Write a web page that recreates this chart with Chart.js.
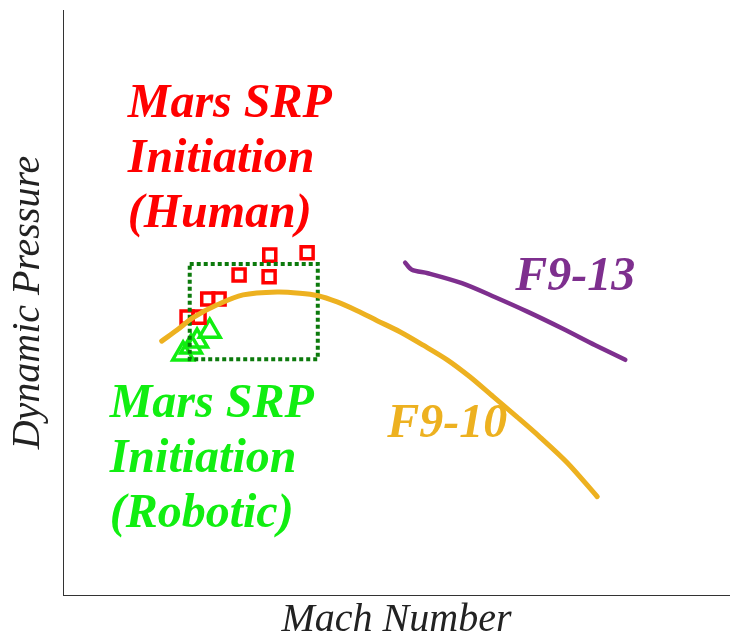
<!DOCTYPE html>
<html>
<head>
<meta charset="utf-8">
<script src="https://cdn.jsdelivr.net/npm/chart.js@4/dist/chart.umd.min.js"></script>
<style>
  html, body { margin: 0; padding: 0; background: #fff; }
  #wrap { width: 730px; height: 640px; }
</style>
</head>
<body>
<div id="wrap"><canvas id="chart"></canvas></div>
<script>
// values (arbitrary units, axes run 0..100)
var f910_mach = [14.8, 17.1, 19.5, 23.1, 27.0, 32.1, 35.5, 38.1, 41.1, 44.1, 47.1, 50.5, 54.0, 57.6, 61.0, 64.5, 68.1, 71.5, 75.6, 80.1];
var f910_q    = [43.4, 45.3, 47.4, 49.6, 51.3, 51.8, 51.6, 51.2, 50.1, 48.6, 46.9, 45.0, 42.7, 40.2, 37.3, 33.9, 30.4, 27.0, 22.6, 16.8];

var f913_mach = [51.3, 52.3, 54.7, 59.8, 64.8, 69.7, 74.8, 79.8, 84.3];
var f913_q    = [56.8, 55.6, 55.0, 53.3, 50.9, 48.4, 45.6, 42.7, 40.2];

var human_mach = [31.0, 36.6, 26.4, 30.9, 21.7, 23.4, 18.6, 20.4];
var human_q    = [58.1, 58.5, 54.7, 54.4, 50.6, 50.6, 47.5, 47.5];

var robotic_mach = [18.0, 19.2, 20.1, 22.0];
var robotic_q    = [41.2, 42.4, 43.4, 45.1];

// dotted box around the initiation points
var box_mach = [19.0, 38.2, 38.2, 19.0, 19.0];
var box_q    = [56.6, 56.6, 40.3, 40.3, 56.6];

var axis_min = 0, axis_max = 100;

function pts(xs, ys) {
    return xs.map(function(x, i) { return {x: x, y: ys[i]}; });
}

// text annotations: anchor (left, first baseline) in data units
var notes = [
    {lines: ['Mars SRP', 'Initiation', '(Human)'], x: 9.7, y: 81.7, color: '#ff0000'},
    {lines: ['Mars SRP', 'Initiation', '(Robotic)'], x: 7.0, y: 30.4, color: '#11ee11'},
    {lines: ['F9-13'], x: 67.8, y: 52.1, color: '#7E2F8E'},
    {lines: ['F9-10'], x: 48.6, y: 27.0, color: '#EDB120'}
];

var notesPlugin = {
    id: 'notes',
    afterDatasetsDraw: function(chart) {
        var ctx = chart.ctx;
        var xs = chart.scales.x, ys = chart.scales.y;
        ctx.save();
        ctx.font = 'italic bold 48px "Liberation Serif"';
        ctx.textBaseline = 'alphabetic';
        ctx.textAlign = 'left';
        notes.forEach(function(n) {
            ctx.fillStyle = n.color;
            var px = xs.getPixelForValue(n.x);
            var py = ys.getPixelForValue(n.y);
            n.lines.forEach(function(line, i) {
                ctx.fillText(line, px, py + i * 55);
            });
        });
        ctx.restore();
    }
};

var ctx = document.getElementById('chart').getContext('2d');
var chart = new Chart(ctx, {
    type: 'line',
    data: {
        datasets: [
            {
                label: 'F9-10',
                data: pts(f910_mach, f910_q),
                borderColor: '#EDB120',
                borderWidth: 5,
                pointRadius: 0,
                tension: 0.3,
                borderCapStyle: 'round',
                fill: false
            },
            {
                label: 'F9-13',
                data: pts(f913_mach, f913_q),
                borderColor: '#7E2F8E',
                borderWidth: 4.5,
                pointRadius: 0,
                tension: 0.3,
                borderCapStyle: 'round',
                fill: false
            },
            {
                label: 'box',
                data: pts(box_mach, box_q),
                borderColor: '#0c7a0c',
                borderWidth: 4,
                borderDash: [4, 3],
                pointRadius: 0,
                tension: 0,
                fill: false
            },
            {
                label: 'Human',
                data: pts(human_mach, human_q),
                showLine: false,
                pointStyle: 'rect',
                pointRadius: 8.5,
                pointBorderWidth: 3.5,
                pointBorderColor: '#ff0000',
                pointBackgroundColor: 'rgba(255,255,255,0)'
            },
            {
                label: 'Robotic',
                data: pts(robotic_mach, robotic_q),
                showLine: false,
                pointStyle: 'triangle',
                pointRadius: 12,
                pointBorderWidth: 3.5,
                pointBorderColor: '#11ee11',
                pointBackgroundColor: 'rgba(255,255,255,0)'
            }
        ]
    },
    options: {
        responsive: true,
        maintainAspectRatio: false,
        animation: false,
        layout: {autoPadding: false, padding: {left: 8, right: 0, top: 10, bottom: 0}},
        plugins: {
            legend: {display: false},
            tooltip: {enabled: false}
        },
        scales: {
            x: {
                type: 'linear',
                min: axis_min,
                max: axis_max,
                grid: {display: false, drawTicks: false},
                border: {display: true, color: '#333', width: 1},
                ticks: {display: false},
                title: {
                    display: true,
                    text: 'Mach Number',
                    color: '#222',
                    font: {family: '"Liberation Serif"', style: 'italic', size: 40, lineHeight: 1},
                    padding: {top: 5, bottom: 0}
                }
            },
            y: {
                type: 'linear',
                min: axis_min,
                max: axis_max,
                grid: {display: false, drawTicks: false},
                border: {display: true, color: '#333', width: 1},
                ticks: {display: false},
                title: {
                    display: true,
                    text: 'Dynamic Pressure',
                    color: '#222',
                    font: {family: '"Liberation Serif"', style: 'italic', size: 40, lineHeight: 1},
                    padding: {top: 0, bottom: 15}
                }
            }
        }
    },
    plugins: [notesPlugin]
});
</script>
</body>
</html>
